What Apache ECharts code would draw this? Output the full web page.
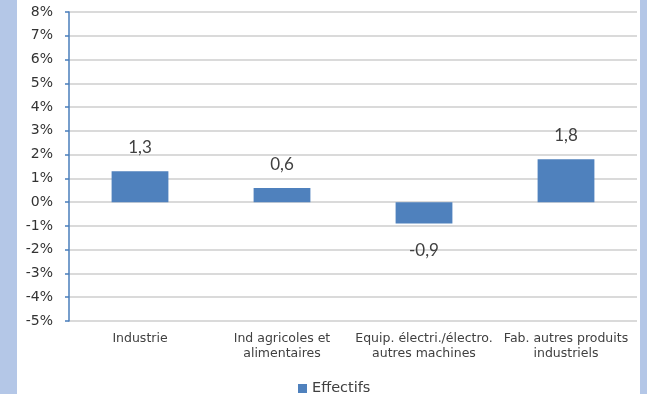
<!DOCTYPE html>
<html>
<head>
<meta charset="utf-8">
<script src="https://cdn.jsdelivr.net/npm/echarts@6/dist/echarts.min.js"></script>
<style>
  html, body { margin: 0; padding: 0; background: #b4c7e7; }
  #chart { width: 647px; height: 394px; }
</style>
</head>
<body>
<div id="chart"></div>
<script>
// Sector categories (line breaks as shown under the axis)
const categories = [
  'Industrie',
  'Ind agricoles et\nalimentaires',
  'Equip. électri./électro.\nautres machines',
  'Fab. autres produits\nindustriels'
];
// Change in headcount, in %
const effectifs = [1.3, 0.6, -0.9, 1.8];
const seriesName = 'Effectifs';
// Y axis range and step, in %
const yMin = -5, yMax = 8, yStep = 1;

const chart = echarts.init(document.getElementById('chart'), null, { renderer: 'canvas' });

const fmt = v => v.toFixed(1).replace('.', ',');

chart.setOption({
  backgroundColor: '#b4c7e7',
  animation: false,
  graphic: [{
    type: 'rect', z: -10, silent: true,
    shape: { x: 17, y: 0, width: 623, height: 394 },
    style: { fill: '#ffffff' }
  }],
  grid: { left: 69, top: 12, width: 568, height: 309, containLabel: false },
  legend: {
    data: [seriesName],
    left: 293, top: 376,
    icon: 'rect', itemWidth: 9, itemHeight: 9, itemGap: 4,
    textStyle: { fontFamily: 'DejaVu Sans', fontSize: 14.5, color: '#404040' }
  },
  xAxis: {
    type: 'category',
    data: categories,
    position: 'bottom',
    axisLine: { show: false, onZero: false },
    axisTick: { show: false },
    axisLabel: {
      fontFamily: 'DejaVu Sans', fontSize: 12.5, color: '#404040',
      lineHeight: 15, margin: 10, interval: 0
    },
    splitLine: { show: false }
  },
  yAxis: {
    type: 'value',
    min: yMin, max: yMax, interval: yStep,
    axisLine: { show: true, lineStyle: { color: '#4a7ebb', width: 1.5 } },
    axisTick: { show: true, length: 4, lineStyle: { color: '#4a7ebb', width: 1.5 } },
    axisLabel: {
      formatter: v => v + '%',
      fontFamily: 'DejaVu Sans', fontSize: 14, color: '#333333', margin: 16
    },
    splitLine: { show: true, lineStyle: { color: '#dadada', width: 2 } }
  },
  series: [{
    name: seriesName,
    type: 'bar',
    barWidth: '40%',
    itemStyle: { color: '#4f81bd' },
    data: effectifs.map(v => ({
      value: v,
      label: { position: v >= 0 ? 'top' : 'bottom', distance: v >= 0 ? 15 : 18 }
    })),
    label: {
      show: true,
      formatter: p => fmt(p.value),
      fontFamily: 'Lato', fontSize: 17, color: '#404040'
    }
  }]
});
</script>
</body>
</html>
